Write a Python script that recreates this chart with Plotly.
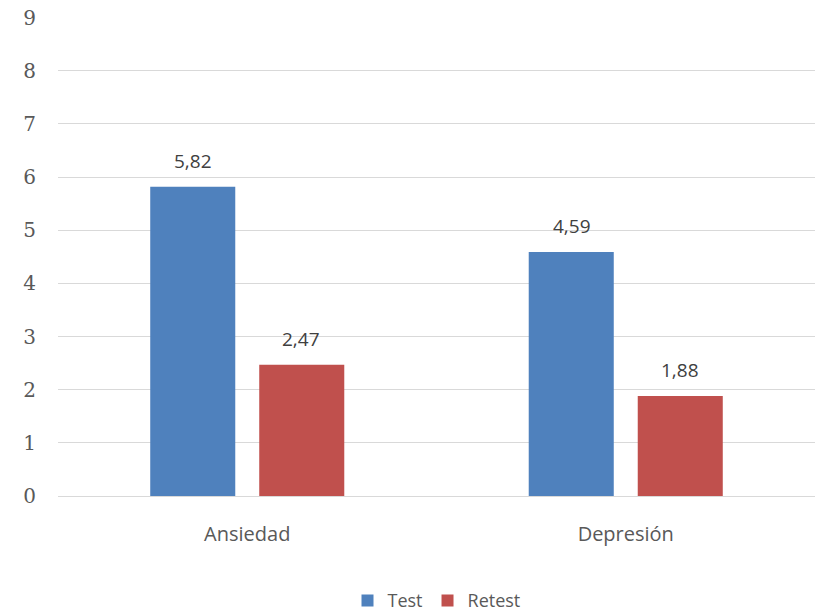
import plotly.graph_objects as go

categories = ["Ansiedad", "Depresión"]
test_values = [5.82, 4.59]
retest_values = [2.47, 1.88]
y_ticks = [0, 1, 2, 3, 4, 5, 6, 7, 8, 9]

LABEL_FONT = "Open Sans, DejaVu Sans, sans-serif"

fig = go.Figure()
fig.add_trace(go.Bar(name="Test", x=categories, y=test_values,
                     marker=dict(color="#4F81BD", line=dict(width=0))))
fig.add_trace(go.Bar(name="Retest", x=categories, y=retest_values,
                     marker=dict(color="#C0504D", line=dict(width=0))))

fig.update_layout(
    width=821, height=612,
    paper_bgcolor="white", plot_bgcolor="white",
    margin=dict(l=58, r=6, t=17, b=116, autoexpand=False),
    barmode="group", bargap=0.424, bargroupgap=0.22,
    showlegend=True,
    legend=dict(orientation="h", x=0.5, xanchor="center", y=-0.18, yanchor="top",
                font=dict(family=LABEL_FONT, size=18, color="#595959"),
                itemwidth=30, traceorder="normal"),
    xaxis=dict(showgrid=False, showline=False, ticks="", automargin=False,
               tickfont=dict(family=LABEL_FONT, size=20, color="#595959"),
               ticklabelstandoff=24),
    yaxis=dict(range=[0, 9.012], tickvals=y_ticks, showgrid=True, gridcolor="#D9D9D9", gridwidth=1,
               zeroline=True, zerolinecolor="#D9D9D9", zerolinewidth=1, showline=False, ticks="",
               automargin=False, ticklabeloverflow="allow",
               tickfont=dict(family="DejaVu Serif, Liberation Serif, serif", size=20, color="#595959"),
               ticklabelstandoff=21),
)

# data labels: Test bars sit left of each category centre, Retest right
for tr in fig.data:
    off = -1 if tr.name == "Test" else 1
    for cat, v in zip(tr.x, tr.y):
        fig.add_annotation(
            x=cat, y=v, xref="x", yref="y", text=f"{v:.2f}".replace(".", ","),
            showarrow=False, yanchor="bottom", yshift=11,
            xshift=off * 54,
            font=dict(family=LABEL_FONT, size=19, color="#404040"),
        )

fig.write_html("out.html", config={"displayModeBar": False},
               post_script="document.body.style.margin='0';")
